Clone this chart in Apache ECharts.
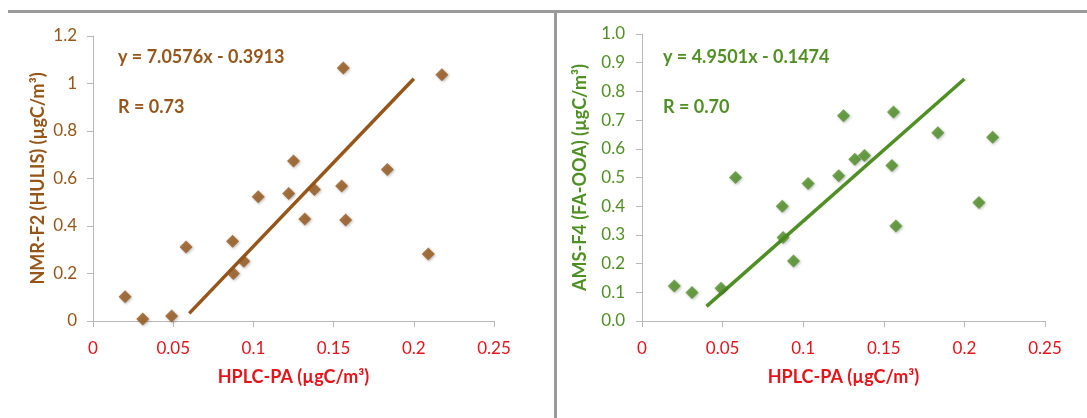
<!DOCTYPE html>
<html>
<head>
<meta charset="utf-8">
<script src="https://cdn.jsdelivr.net/npm/echarts@6/dist/echarts.min.js"></script>
<style>
html,body{margin:0;padding:0;background:#fff;}
#chart{width:1087px;height:418px;}
</style>
</head>
<body>
<div id="chart"></div>
<script>
// HPLC-PA values (x, shared by both panels)
const hplcPA = [0.020, 0.031, 0.049, 0.058, 0.087, 0.0875, 0.094, 0.103, 0.122, 0.125, 0.132, 0.138, 0.156, 0.155, 0.1575, 0.1835, 0.209, 0.2175];
// Left panel: NMR-F2 (HULIS)
const nmrF2 = [0.102, 0.008, 0.021, 0.312, 0.336, 0.200, 0.252, 0.523, 0.537, 0.674, 0.430, 0.554, 1.065, 0.568, 0.425, 0.638, 0.282, 1.037];
// Right panel: AMS-F4 (FA-OOA)
const amsF4 = [0.122, 0.099, 0.114, 0.500, 0.400, 0.291, 0.209, 0.479, 0.506, 0.715, 0.564, 0.577, 0.728, 0.542, 0.331, 0.656, 0.413, 0.640];
// Trend line end points
const trendLeftX = [0.06, 0.20];
const trendLeftY = [0.032, 1.020];
const trendRightX = [0.04, 0.20];
const trendRightY = [0.051, 0.843];
// Tick labels
const xTicks = [0, 0.05, 0.1, 0.15, 0.2, 0.25];
const yTicksLeft = [0, 0.2, 0.4, 0.6, 0.8, 1, 1.2];
const yTicksRight = [0.0, 0.1, 0.2, 0.3, 0.4, 0.5, 0.6, 0.7, 0.8, 0.9, 1.0];

const BROWN = '#96561a';
const GREEN = '#4f8f23';
const RED = '#e4141b';
const AXIS = '#b8b8b8';
const FONT = 'Lato, "Open Sans", sans-serif';

function pairs(xs, ys){ return xs.map((x,i)=>[x, ys[i]]); }

function xAxis(gi){
  return {
    type:'value', gridIndex:gi, min:0, max:0.25, interval:0.05,
    name:'HPLC-PA (µgC/m³)', nameLocation:'middle', nameGap:47,
    nameTextStyle:{color:RED, fontWeight:'bold', fontSize:18, fontFamily:FONT},
    axisLine:{show:true, lineStyle:{color:AXIS, width:1}},
    axisTick:{show:true, length:6, lineStyle:{color:AXIS}},
    splitLine:{show:false},
    axisLabel:{color:RED, fontSize:17, fontFamily:FONT, margin:19,
      formatter:v=>{ const t = xTicks.find(k=>Math.abs(k-v)<1e-9); return t===undefined? '' : String(t); }}
  };
}
function yAxis(gi, name, color, max, interval, fmt, gap, margin){
  return {
    type:'value', gridIndex:gi, min:0, max:max, interval:interval,
    name:name, nameLocation:'middle', nameGap:gap,
    nameTextStyle:{color:color, fontWeight:'bold', fontSize:18, fontFamily:FONT},
    axisLine:{show:true, lineStyle:{color:AXIS, width:1}},
    axisTick:{show:true, length:6, lineStyle:{color:AXIS}},
    splitLine:{show:false},
    axisLabel:{color:color, fontSize:17, fontFamily:FONT, margin:margin, formatter:fmt}
  };
}
const markerStyle = c => ({color:c, shadowBlur:3, shadowColor:'rgba(0,0,0,0.35)', shadowOffsetX:1, shadowOffsetY:1});

const chart = echarts.init(document.getElementById('chart'), null, {renderer:'canvas'});
chart.setOption({
  backgroundColor:'#fff',
  animation:false,
  grid:[
    {left:93, top:36, width:401, height:285},
    {left:642, top:34, width:403, height:287}
  ],
  xAxis:[xAxis(0), xAxis(1)],
  yAxis:[
    yAxis(0, 'NMR-F2 (HULIS) (µgC/m³)', BROWN, 1.2, 0.2,
      v=>{ const t = yTicksLeft.find(k=>Math.abs(k-v)<1e-9); return t===undefined? '' : String(t); }, 46, 16),
    yAxis(1, 'AMS-F4 (FA-OOA) (µgC/m³)', GREEN, 1.0, 0.1,
      v=>{ const t = yTicksRight.find(k=>Math.abs(k-v)<1e-9); return t===undefined? '' : t.toFixed(1); }, 53, 17)
  ],
  series:[
    {type:'scatter', xAxisIndex:0, yAxisIndex:0, data:pairs(hplcPA, nmrF2), symbol:'diamond', symbolSize:13, itemStyle:markerStyle(BROWN), z:3},
    {type:'line', xAxisIndex:0, yAxisIndex:0, data:pairs(trendLeftX, trendLeftY), showSymbol:false, symbol:'none', lineStyle:{color:BROWN, width:3.5}, z:2},
    {type:'scatter', xAxisIndex:1, yAxisIndex:1, data:pairs(hplcPA, amsF4), symbol:'diamond', symbolSize:13, itemStyle:markerStyle(GREEN), z:3},
    {type:'line', xAxisIndex:1, yAxisIndex:1, data:pairs(trendRightX, trendRightY), showSymbol:false, symbol:'none', lineStyle:{color:GREEN, width:3.5}, z:2}
  ],
  graphic:[
    {type:'line', shape:{x1:8, y1:11.5, x2:1087, y2:11.5}, style:{stroke:'#9a9a9a', lineWidth:3}, z:10},
    {type:'line', shape:{x1:555.5, y1:11, x2:555.5, y2:418}, style:{stroke:'#9a9a9a', lineWidth:3}, z:10},
    {type:'text', left:118, top:48, style:{text:'y = 7.0576x - 0.3913', fill:BROWN, font:'bold 18px '+FONT}},
    {type:'text', left:118, top:98, style:{text:'R = 0.73', fill:BROWN, font:'bold 18px '+FONT}},
    {type:'text', left:663, top:48, style:{text:'y = 4.9501x - 0.1474', fill:GREEN, font:'bold 18px '+FONT}},
    {type:'text', left:663, top:98, style:{text:'R = 0.70', fill:GREEN, font:'bold 18px '+FONT}}
  ]
});
</script>
</body>
</html>
